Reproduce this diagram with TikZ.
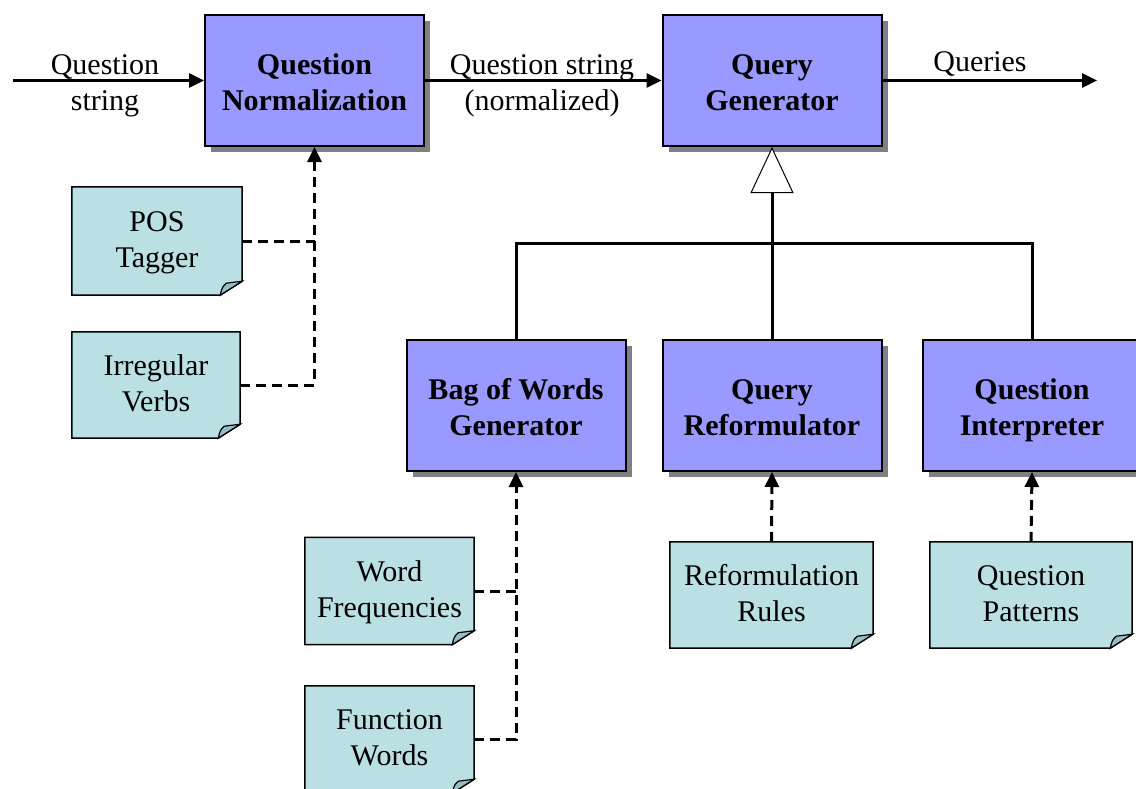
\documentclass[tikz,border=0pt]{standalone}
\usepackage{fontspec}
\setmainfont{Liberation Serif}
\usetikzlibrary{arrows.meta,shadows,backgrounds}
\definecolor{boxblue}{RGB}{153,153,255}
\definecolor{notecyan}{RGB}{187,224,227}
\definecolor{foldcyan}{RGB}{150,190,196}
\definecolor{shadowgray}{RGB}{128,128,128}
\newcommand\twolines[3][0pt]{\raisebox{#1}[\height][\depth]{\begin{tabular}{@{}c@{}}#2\\#3\end{tabular}}}
\newcommand\oneline[2][0pt]{\raisebox{#1}[\height][\depth]{\begin{tabular}{@{}c@{}}#2\end{tabular}}}
\tikzset{
 procbox/.style={draw=black, line width=2pt, fill=boxblue, minimum width=219pt, minimum height=131pt, inner sep=0pt, font=\fontsize{30}{36}\selectfont\bfseries, drop shadow={shadow xshift=6pt, shadow yshift=-6pt, fill=shadowgray, opacity=1}},
 notebox/.style={minimum width=#1, minimum height=106pt, inner sep=0pt, font=\fontsize{30}{36}\selectfont},
 flow/.style={line width=3pt, -{Triangle[length=15pt,width=14pt]}},
 uses/.style={line width=3pt, dash pattern=on 10pt off 6pt, -{Triangle[length=15pt,width=14pt]}},
 link/.style={line width=3pt, dash pattern=on 10pt off 6pt},
 tree/.style={line width=3pt},
 lbl/.style={font=\fontsize{30}{36}\selectfont, inner sep=0pt},
}
\newcommand\drawnote[1]{%
 \path[draw=black, line width=1.5pt, fill=notecyan] (#1.north west) -- (#1.north east) -- ([yshift=14pt]#1.south east) -- ([xshift=-22pt]#1.south east) -- (#1.south west) -- cycle;
 \path[draw=black, line width=1.2pt, fill=foldcyan] ([xshift=-22pt]#1.south east) .. controls ([xshift=-20pt,yshift=8pt]#1.south east) .. ([xshift=-16pt,yshift=12pt]#1.south east) -- ([yshift=14pt]#1.south east) -- cycle;
}
\begin{document}
\begin{tikzpicture}[x=1pt,y=-1pt]
\useasboundingbox (0,0) rectangle (1136,788);
\clip (0,0) rectangle (1136,788);
% process boxes
\node[procbox] (qn) at (314.5,80.5) {\twolines[-5pt]{Question}{Normalization}};
\node[procbox] (qg) at (772,80.5) {\twolines[-5pt]{Query}{Generator}};
\node[procbox] (bow) at (516,405.5) {\twolines[-5pt]{Bag of Words}{Generator}};
\node[procbox] (qr) at (772,405.5) {\twolines[-5pt]{Query}{Reformulator}};
\node[procbox] (qi) at (1032,405.5) {\twolines[-5pt]{Question}{Interpreter}};
% notes
\node[notebox=170pt, minimum height=108pt] (pos) at (157,241) {\twolines[-1pt]{POS}{Tagger}};
\node[notebox=168pt] (iv) at (156,385) {\twolines[-1pt]{Irregular}{Verbs}};
\node[notebox=169pt, minimum height=107pt] (wf) at (389.5,591) {\twolines[-1pt]{Word}{Frequencies}};
\node[notebox=169pt, minimum height=107pt] (fw) at (389.5,739.5) {\twolines[-1pt]{Function}{Words}};
\node[notebox=203pt] (rr) at (771.5,595) {\twolines[-1pt]{Reformulation}{Rules}};
\node[notebox=202pt] (qp) at (1031,595) {\twolines[-1pt]{Question}{Patterns}};
\begin{scope}[on background layer]
\drawnote{pos}\drawnote{iv}\drawnote{wf}\drawnote{fw}\drawnote{rr}\drawnote{qp}
\end{scope}
% main flow
\coordinate (in) at (13,80.5);
\coordinate (out) at (1097,80.5);
\draw[flow] (in) -- (qn);
\draw[flow] (qn) -- (qg);
\draw[flow] (qg) -- (out);
\node[lbl] (l1) at (105,82) {\twolines[-3pt]{Question}{string}};
\node[lbl] (l2) at (542,82) {\twolines[-3pt]{Question string}{(normalized)}};
\node[lbl] (l3) at (980,61) {\oneline[-3pt]{Queries}};
% generalization tree
\coordinate (j) at (772,243);
\draw[tree] (bow.north) -- (bow.north |- j) -- (qi.north |- j) -- (qi.north);
\draw[line width=3pt, -{Triangle[open, length=46pt, width=43pt, line width=1pt, fill=white]}] (qr.north) -- (qg.south);
% dependencies
\draw[link] (pos.east) -- (pos.east -| qn.south);
\draw[uses] (iv.east) -| (qn.south);
\draw[link] (wf.east) -- (wf.east -| bow.south);
\draw[uses] (fw.east) -| (bow.south);
\draw[uses] (rr.north) -- (qr.south);
\draw[uses] (qp.north) -- (qi.south);
\end{tikzpicture}
\end{document}
